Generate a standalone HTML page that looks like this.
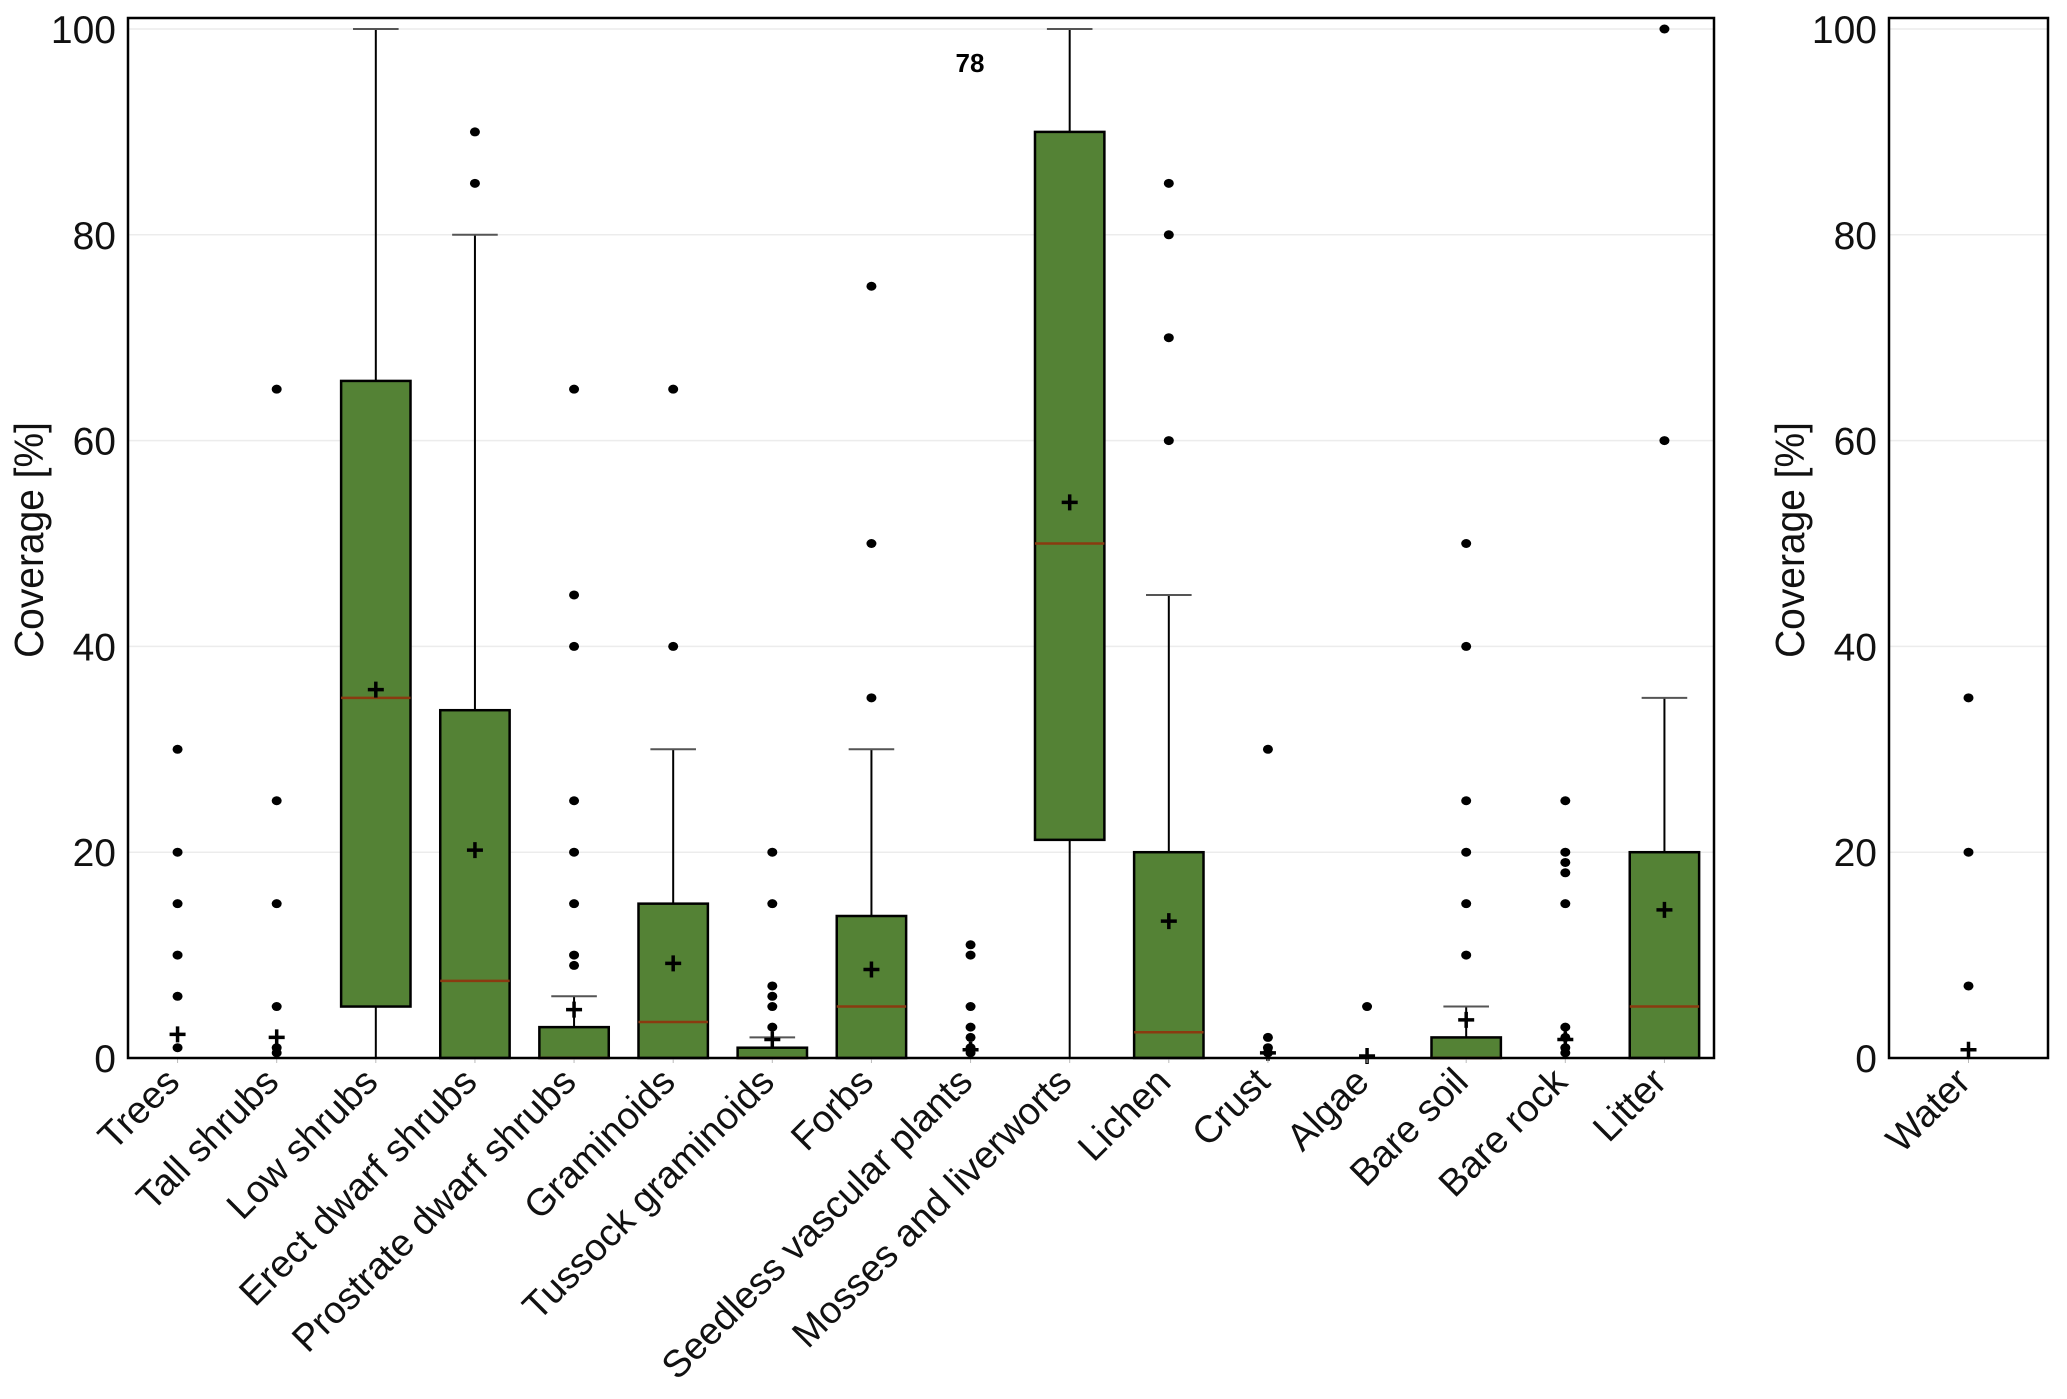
<!DOCTYPE html>
<html><head><meta charset="utf-8"><style>
html,body{margin:0;padding:0;background:#fff;}
svg{display:block;font-family:"Liberation Sans",Arial,sans-serif;}
</style></head><body>
<svg id="chart" width="2067" height="1399" viewBox="0 0 2067 1399"></svg>
<script>
const categories=["Trees","Tall shrubs","Low shrubs","Erect dwarf shrubs","Prostrate dwarf shrubs","Graminoids","Tussock graminoids","Forbs","Seedless vascular plants","Mosses and liverworts","Lichen","Crust","Algae","Bare soil","Bare rock","Litter"];
const q1s=[null,null,5,0,0,0,0,0,null,21.2,0,null,null,0,null,0];
const medians=[null,null,35,7.5,0,3.5,0,5,null,50,2.5,null,null,0,null,5];
const q3s=[null,null,65.8,33.8,3,15,1,13.8,null,90,20,null,null,2,null,20];
const whiskLo=[null,null,0,0,0,0,0,0,null,0,0,null,null,0,null,0];
const whiskHi=[null,null,100,80,6,30,2,30,null,100,45,null,null,5,null,35];
const means=[2.3,2,35.8,20.2,4.7,9.2,1.8,8.6,0.8,54,13.3,0.5,0.2,3.7,1.8,14.4];
const outliers=[[30,20,15,10,6,1],[65,25,15,5,1,0.5],[],[90,85],[65,45,40,25,20,15,10,9],[65,40],[20,15,7,6,5,3],[75,50,35],[11,10,5,3,2,1,0.5],[],[85,80,70,60],[30,2,1,0.5],[5],[50,40,25,20,15,10],[25,20,19,18,15,3,2,1,0.5],[100,60]];
const waterCategories=["Water"];
const waterMeans=[0.8];
const waterOutliers=[[35,20,7]];
const yTicks=[0,20,40,60,80,100];
const countLabel="78";

const NS="http://www.w3.org/2000/svg";
const svg=document.getElementById('chart');
function mk(tag,attrs,parent){const e=document.createElementNS(NS,tag);for(const k in attrs)e.setAttribute(k,attrs[k]);(parent||svg).appendChild(e);return e;}
const Y0=1058,Y100=29;
function y(v){return Y0-(Y0-Y100)*v/100;}

function drawPanel(L,R,cats,q1,med,q3,wl,wh,mn,outs,name){
  const g=mk('g',{});
  
  
  yTicks.forEach(t=>{ if(t>0){const gl=mk('line',{x1:L,x2:R,y1:y(t),y2:y(t),stroke:'#ececec','stroke-width':1.5},g);
    }
    const tl=mk('text',{x:L-12,y:y(t)+14,'text-anchor':'end','font-size':39,fill:'#111'},g);tl.textContent=t;
    
  });
  const step=(R-L)/cats.length;
  cats.forEach((c,i)=>{
    const cx=L+(i+0.5)*step;const bw=step*0.7,cw=step*0.46;
    const cg=mk('g',{},g);
    
    
    if(wh&&wh[i]!=null){
      mk('line',{x1:cx,x2:cx,y1:y(wh[i]),y2:y(q3[i]),stroke:'#000','stroke-width':2},cg);
      mk('line',{x1:cx,x2:cx,y1:y(wl[i]),y2:y(q1[i]),stroke:'#000','stroke-width':2},cg);
      mk('line',{x1:cx-cw/2,x2:cx+cw/2,y1:y(wh[i]),y2:y(wh[i]),stroke:'#555','stroke-width':2},cg);
      const r=mk('rect',{x:cx-bw/2,y:y(q3[i]),width:bw,height:Math.max(y(q1[i])-y(q3[i]),1),fill:'#548235',stroke:'#000','stroke-width':2.5},cg);
      
      mk('line',{x1:cx-bw/2,x2:cx+bw/2,y1:y(med[i]),y2:y(med[i]),stroke:'#8a3a10','stroke-width':2.5},cg);
    }
    outs[i].forEach(v=>{const d=mk('ellipse',{cx:cx,cy:y(v),rx:5,ry:4.5,fill:'#000'},cg);
      });
    const m=mn[i];
    const p=mk('path',{d:`M${cx-8},${y(m)}H${cx+8}M${cx},${y(m)-8}V${y(m)+8}`,stroke:'#000','stroke-width':3.5},cg);
    
    mk('line',{x1:cx,x2:cx,y1:Y0,y2:Y0+5,stroke:'#bbb','stroke-width':1},cg);
    const t=mk('text',{transform:`translate(${cx+4},${Y0+26}) rotate(-45)`,'text-anchor':'end','font-size':38,fill:'#111'},g);
    t.textContent=c;
    
  });
  const fr=mk('rect',{x:L,y:18,width:R-L,height:Y0-18,fill:'none',stroke:'#000','stroke-width':2.5},g);
  
  const at=mk('text',{transform:`translate(${L-85},${(Y0+18)/2+2}) rotate(-90) scale(0.95,1)`,'text-anchor':'middle','font-size':41,fill:'#111'},g);
  at.textContent='Coverage [%]';
  
}
drawPanel(128,1714,categories,q1s,medians,q3s,whiskLo,whiskHi,means,outliers,'main-panel');
drawPanel(1889,2048,waterCategories,null,null,null,null,null,waterMeans,waterOutliers,'water-panel');
const cl=mk('text',{x:970,y:72,'text-anchor':'middle','font-size':26,'font-weight':'bold',fill:'#000'});
cl.textContent=countLabel;


</script>
</body></html>
